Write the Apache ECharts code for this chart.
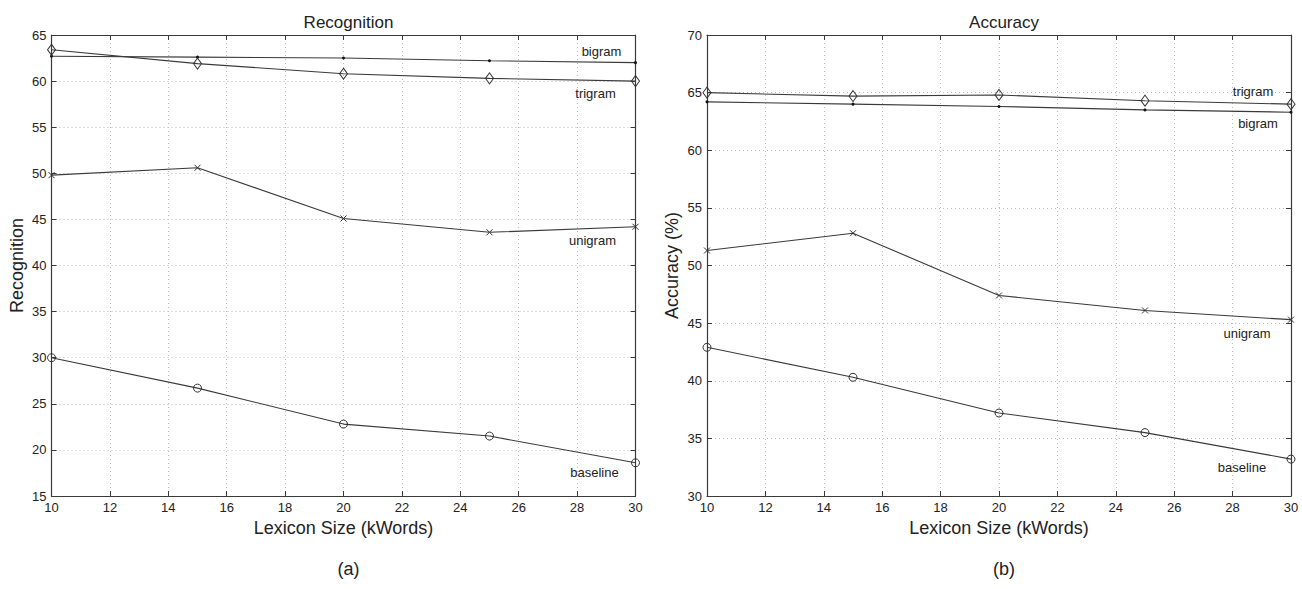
<!DOCTYPE html>
<html>
<head>
<meta charset="utf-8">
<script src="https://cdn.jsdelivr.net/npm/echarts@6/dist/echarts.min.js"></script>
<style>
html,body{margin:0;padding:0;background:#fff;}
#chart{width:1302px;height:589px;}
</style>
</head>
<body>
<div id="chart"></div>
<script>
// ---- data ----
const lexicon = [10, 15, 20, 25, 30];
const recBaseline = [30.0, 26.7, 22.8, 21.5, 18.6];
const recUnigram  = [49.8, 50.6, 45.1, 43.6, 44.2];
const recBigram   = [62.7, 62.6, 62.5, 62.2, 62.0];
const recTrigram  = [63.4, 61.9, 60.8, 60.3, 60.0];
const accBaseline = [42.9, 40.3, 37.2, 35.5, 33.2];
const accUnigram  = [51.3, 52.8, 47.4, 46.1, 45.3];
const accBigram   = [64.2, 64.0, 63.8, 63.5, 63.3];
const accTrigram  = [65.0, 64.7, 64.8, 64.3, 64.0];
const panelTitles = ['Recognition', 'Accuracy'];
const panelYNames = ['Recognition', 'Accuracy (%)'];
const panelTags = ['(a)', '(b)'];
const xName = 'Lexicon Size (kWords)';

// ---- styling ----
const FONT = 'Liberation Sans, Arial, sans-serif';
const INK = '#222';
const FRAME = '#3a3a3a';
const grids = [
  {left: 51.5, top: 35, width: 584, height: 461},
  {left: 707, top: 35, width: 584, height: 461}
];
const yRanges = [[15, 65], [30, 70]];

const symbols = {
  baseline: {symbol: 'circle', symbolSize: 8, itemStyle: {color: 'none', borderColor: '#333', borderWidth: 1}},
  unigram: {symbol: 'path://M0,0L10,10M10,0L0,10', symbolSize: 6, itemStyle: {color: 'none', borderColor: '#333', borderWidth: 1}},
  bigram: {symbol: 'circle', symbolSize: 3, itemStyle: {color: '#111', borderWidth: 0}},
  trigram: {symbol: 'diamond', symbolSize: [8, 11], itemStyle: {color: 'none', borderColor: '#333', borderWidth: 1}}
};

function pairs(vals) { return lexicon.map((x, i) => [x, vals[i]]); }

function mk(name, vals, gi, offset) {
  const s = symbols[name];
  return {
    type: 'line', name: name,
    xAxisIndex: gi * 2, yAxisIndex: gi * 2,
    data: pairs(vals),
    symbol: s.symbol, symbolSize: s.symbolSize, showSymbol: true,
    itemStyle: s.itemStyle,
    lineStyle: {color: '#3a3a3a', width: 1.1},
    emphasis: {disabled: true},
    animation: false,
    z: 3,
    markPoint: {
      silent: true, animation: false,
      symbol: 'circle', symbolSize: 0,
      itemStyle: {color: 'transparent'},
      label: {show: true, position: 'inside', formatter: name, offset: offset,
              color: INK, fontSize: 13, fontFamily: FONT},
      data: [{coord: [lexicon[lexicon.length - 1], vals[vals.length - 1]]}]
    }
  };
}

const xAxes = [], yAxes = [];
grids.forEach((g, gi) => {
  xAxes.push({
    type: 'value', gridIndex: gi, min: 10, max: 30, interval: 2,
    name: xName, nameLocation: 'middle', nameGap: 21,
    nameTextStyle: {fontSize: 18, color: INK, fontFamily: FONT},
    axisLine: {show: true, onZero: false, lineStyle: {color: FRAME, width: 1.2}},
    axisTick: {show: true, inside: true, length: 5, lineStyle: {color: FRAME}},
    axisLabel: {color: INK, fontSize: 13, fontFamily: FONT, margin: 5},
    splitLine: {show: true, lineStyle: {color: '#bdbdbd', type: [1, 3], width: 1}}
  });
  xAxes.push({
    type: 'value', gridIndex: gi, min: 10, max: 30, interval: 2, position: 'top',
    axisLine: {show: true, onZero: false, lineStyle: {color: FRAME, width: 1.2}},
    axisTick: {show: true, inside: true, length: 5, lineStyle: {color: FRAME}},
    axisLabel: {show: false}, splitLine: {show: false}
  });
  yAxes.push({
    type: 'value', gridIndex: gi, min: yRanges[gi][0], max: yRanges[gi][1], interval: 5,
    name: panelYNames[gi], nameLocation: 'middle', nameGap: 26, nameRotate: 90,
    nameTextStyle: {fontSize: 18, color: INK, fontFamily: FONT},
    axisLine: {show: true, onZero: false, lineStyle: {color: FRAME, width: 1.2}},
    axisTick: {show: true, inside: true, length: 5, lineStyle: {color: FRAME}},
    axisLabel: {color: INK, fontSize: 13, fontFamily: FONT, margin: 5},
    splitLine: {show: true, lineStyle: {color: '#bdbdbd', type: [1, 3], width: 1}}
  });
  yAxes.push({
    type: 'value', gridIndex: gi, min: yRanges[gi][0], max: yRanges[gi][1], interval: 5, position: 'right',
    axisLine: {show: true, onZero: false, lineStyle: {color: FRAME, width: 1.2}},
    axisTick: {show: true, inside: true, length: 5, lineStyle: {color: FRAME}},
    axisLabel: {show: false}, splitLine: {show: false}
  });
});

const titles = [];
grids.forEach((g, gi) => {
  const cx = g.left + g.width / 2;
  titles.push({text: panelTitles[gi], left: cx, top: 9, textAlign: 'center',
    textStyle: {fontSize: 17, fontWeight: 'normal', color: INK, fontFamily: FONT}});
  titles.push({text: panelTags[gi], left: cx, top: 555, textAlign: 'center',
    textStyle: {fontSize: 18, fontWeight: 'normal', color: INK, fontFamily: FONT}});
});

const series = [
  mk('bigram', recBigram, 0, [-34, -11]),
  mk('trigram', recTrigram, 0, [-40, 12]),
  mk('unigram', recUnigram, 0, [-43, 14]),
  mk('baseline', recBaseline, 0, [-41, 10]),
  mk('trigram', accTrigram, 1, [-38, -13]),
  mk('bigram', accBigram, 1, [-33, 11]),
  mk('unigram', accUnigram, 1, [-44, 14]),
  mk('baseline', accBaseline, 1, [-49, 8])
];

const chart = echarts.init(document.getElementById('chart'), null, {renderer: 'svg'});
chart.setOption({
  backgroundColor: '#fff',
  animation: false,
  title: titles,
  grid: grids.map(g => Object.assign({containLabel: false}, g)),
  xAxis: xAxes,
  yAxis: yAxes,
  series: series
});
</script>
</body>
</html>
